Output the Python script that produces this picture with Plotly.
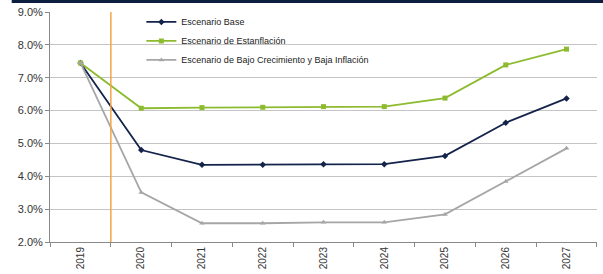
import plotly.graph_objects as go

years = ["2019", "2020", "2021", "2022", "2023", "2024", "2025", "2026", "2027"]
base = [7.45, 4.80, 4.35, 4.35, 4.37, 4.37, 4.62, 5.63, 6.37]
estanflacion = [7.45, 6.07, 6.09, 6.10, 6.12, 6.12, 6.38, 7.39, 7.87]
bajo = [7.45, 3.51, 2.57, 2.57, 2.60, 2.60, 2.84, 3.84, 4.85]
names = ["Escenario Base", "Escenario de Estanflación",
         "Escenario de Bajo Crecimiento y Baja Inflación"]
ytick_vals = [2, 3, 4, 5, 6, 7, 8, 9]
ytick_text = ["2.0%", "3.0%", "4.0%", "5.0%", "6.0%", "7.0%", "8.0%", "9.0%"]

fig = go.Figure()
fig.add_trace(go.Scatter(x=years, y=base, name=names[0], mode="lines+markers",
                         line=dict(color="#13234A", width=1.8),
                         marker=dict(symbol="diamond", size=5, color="#13234A")))
fig.add_trace(go.Scatter(x=years, y=estanflacion, name=names[1], mode="lines+markers",
                         line=dict(color="#8DBB2F", width=1.8),
                         marker=dict(symbol="square", size=5, color="#8DBB2F")))
fig.add_trace(go.Scatter(x=years, y=bajo, name=names[2], mode="lines+markers",
                         line=dict(color="#A6A6A6", width=1.8),
                         marker=dict(symbol="triangle-up", size=5, color="#A6A6A6")))

fig.update_layout(
    width=603, height=274,
    margin=dict(l=50, r=6, t=12, b=32, autoexpand=False),
    paper_bgcolor="white", plot_bgcolor="white",
    font=dict(family="Liberation Sans, Arial, sans-serif", size=10, color="#333333"),
    showlegend=True,
    legend=dict(x=0.167, y=1.02, xanchor="left", yanchor="top",
                bgcolor="rgba(0,0,0,0)",
                font=dict(family="Liberation Sans Narrow, Liberation Sans, Arial", size=9, color="#222222"),
                tracegroupgap=0, itemwidth=30),
    shapes=[
        dict(type="line", xref="x", yref="y", x0=0.5, x1=0.5, y0=2, y1=9,
             line=dict(color="#F4A445", width=1.5)),
        dict(type="rect", xref="paper", yref="paper", x0=-0.07, x1=1.02,
             y0=1.039, y1=1.06, fillcolor="#0E1E40", line=dict(width=0)),
    ],
)
fig.update_xaxes(type="category", tickangle=-90, showgrid=False,
                 showline=True, linecolor="#888888", linewidth=1,
                 ticks="outside", ticklen=4, tickcolor="#888888",
                 tickson="boundaries", tickfont=dict(size=10, color="#333333"))
fig.update_yaxes(range=[2, 9], tickvals=ytick_vals, ticktext=ytick_text,
                 showgrid=True, gridcolor="#C4C4C4", gridwidth=1,
                 showline=True, linecolor="#888888", linewidth=1,
                 ticks="outside", ticklen=4, tickcolor="#888888",
                 zeroline=False, tickfont=dict(size=11, color="#333333"))

fig.write_html("out.html", config={"displayModeBar": False},
               post_script="document.body.style.margin='0';document.body.style.padding='0';")
